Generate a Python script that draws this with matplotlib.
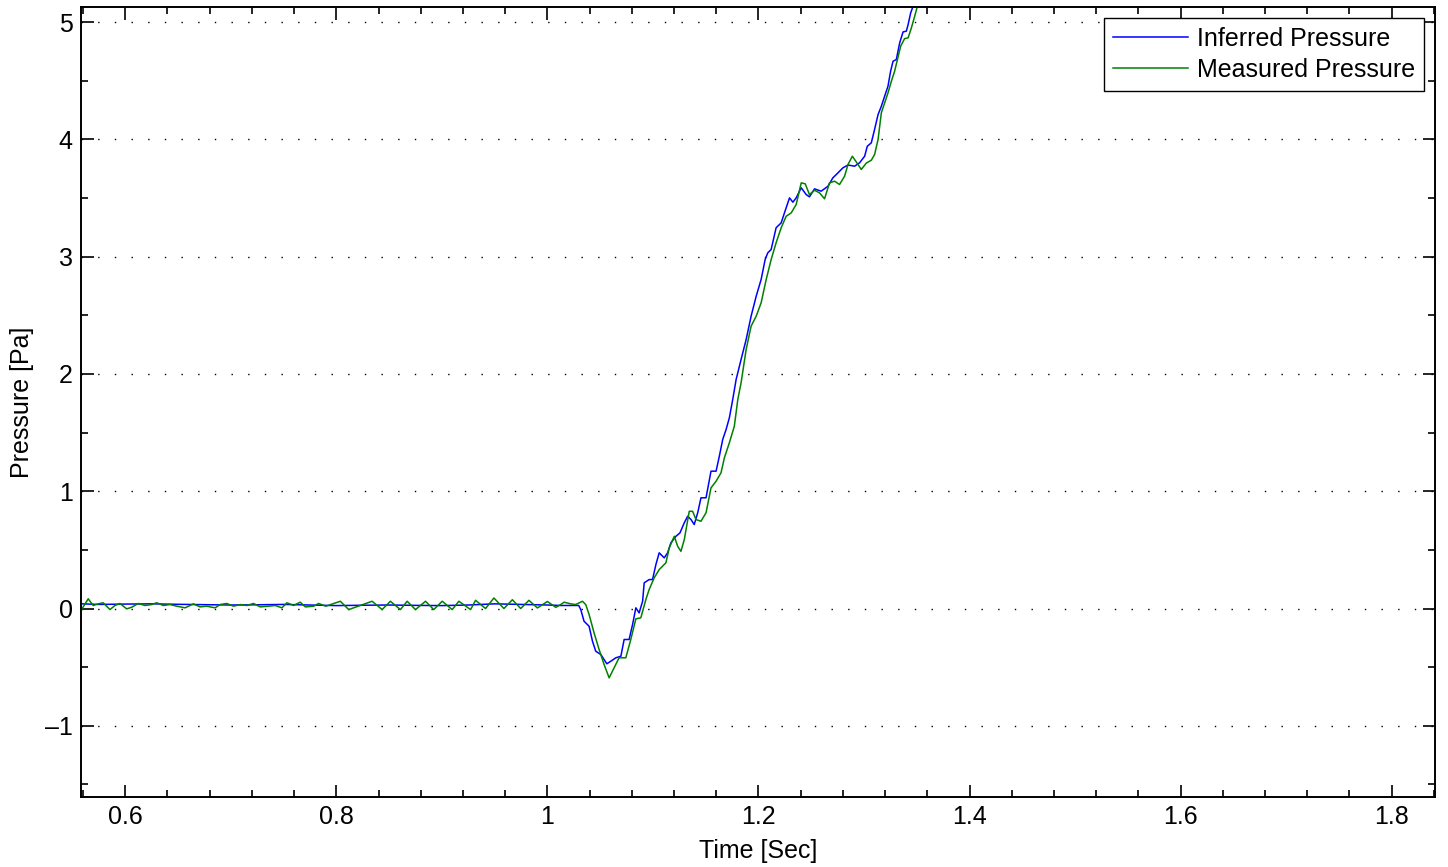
import matplotlib
matplotlib.use("Agg")
import matplotlib.pyplot as plt
from matplotlib.ticker import MultipleLocator

plt.rcParams['font.family'] = ['Liberation Sans', 'DejaVu Sans']

# Inferred pressure trace (time [s], pressure [Pa])
inferred_t = [0.5586, 0.575, 0.600, 0.625, 0.650, 0.675, 0.700, 0.725, 0.750, 0.775,
              0.800, 0.825, 0.850, 0.875, 0.900, 0.925, 0.950, 0.975, 1.000, 1.0126,
              1.0297, 1.0316, 1.0347, 1.0395, 1.0427, 1.0458, 1.0506, 1.0563, 1.0601,
              1.0648, 1.0696, 1.0727, 1.0774, 1.0807, 1.0838, 1.0869, 1.0902, 1.0917,
              1.0964, 1.0996, 1.1028, 1.1059, 1.1107, 1.1139, 1.1170, 1.1218, 1.1256,
              1.1297, 1.1329, 1.1360, 1.1391, 1.1424, 1.1455, 1.1503, 1.1550, 1.1598,
              1.1629, 1.1661, 1.1693, 1.1724, 1.1756, 1.1788, 1.1835, 1.1883, 1.1930,
              1.1978, 1.2025, 1.2063, 1.2088, 1.2120, 1.2167, 1.2215, 1.2246, 1.2294,
              1.2326, 1.2357, 1.2405, 1.2452, 1.2483, 1.2531, 1.2594, 1.2658, 1.2705,
              1.2753, 1.2800, 1.2848, 1.2911, 1.2958, 1.3006, 1.3031, 1.3069, 1.3100,
              1.3133, 1.3164, 1.3195, 1.3227, 1.3252, 1.3275, 1.3306, 1.3338, 1.3370,
              1.3401, 1.3418, 1.3442, 1.3465, 1.3496]
inferred_p = [0.040, 0.035, 0.038, 0.040, 0.036, 0.033, 0.030, 0.032, 0.035, 0.030,
              0.025, 0.028, 0.030, 0.027, 0.025, 0.030, 0.040, 0.035, 0.030, 0.026,
              0.026, -0.009, -0.108, -0.151, -0.279, -0.364, -0.392, -0.471, -0.449,
              -0.420, -0.407, -0.264, -0.264, -0.136, 0.006, -0.037, 0.062, 0.219,
              0.247, 0.247, 0.375, 0.475, 0.432, 0.475, 0.560, 0.616, 0.645,
              0.731, 0.787, 0.759, 0.716, 0.816, 0.944, 0.944, 1.171, 1.171,
              1.298, 1.441, 1.526, 1.626, 1.782, 1.952, 2.123, 2.293, 2.492,
              2.662, 2.805, 2.975, 3.032, 3.061, 3.246, 3.288, 3.373, 3.501,
              3.464, 3.501, 3.587, 3.529, 3.510, 3.578, 3.558, 3.600, 3.672,
              3.714, 3.757, 3.781, 3.771, 3.800, 3.856, 3.941, 3.970, 4.084,
              4.211, 4.282, 4.367, 4.453, 4.581, 4.666, 4.680, 4.823, 4.916,
              4.922, 4.979, 5.078, 5.135, 5.230]

# Measured pressure trace (time [s], pressure [Pa])
measured_t = [0.5586, 0.5649, 0.5696, 0.5744, 0.5791, 0.5855, 0.5902, 0.5950, 0.6013,
              0.6061, 0.6123, 0.6187, 0.6250, 0.6298, 0.6360, 0.6424, 0.6488, 0.6567,
              0.6645, 0.6709, 0.6772, 0.6851, 0.6899, 0.6962, 0.7025, 0.7089, 0.7152,
              0.7215, 0.7279, 0.7357, 0.7421, 0.7484, 0.7532, 0.7595, 0.7658, 0.7706,
              0.7785, 0.7832, 0.7900, 0.8038, 0.8117, 0.8339, 0.8434, 0.8512, 0.8607,
              0.8671, 0.8750, 0.8845, 0.8923, 0.9003, 0.9098, 0.9161, 0.9272, 0.9319,
              0.9414, 0.9493, 0.9588, 0.9668, 0.9747, 0.9825, 0.9905, 1.0000, 1.0079,
              1.0126, 1.0158, 1.0221, 1.0268, 1.0332, 1.0363, 1.0395, 1.0442, 1.0490,
              1.0537, 1.0585, 1.0632, 1.0679, 1.0743, 1.0790, 1.0838, 1.0885, 1.0933,
              1.0964, 1.1012, 1.1059, 1.1123, 1.1154, 1.1202, 1.1234, 1.1265, 1.1297,
              1.1344, 1.1376, 1.1408, 1.1455, 1.1503, 1.1550, 1.1598, 1.1645, 1.1677,
              1.1724, 1.1771, 1.1804, 1.1835, 1.1883, 1.1930, 1.1978, 1.2025, 1.2073,
              1.2120, 1.2167, 1.2215, 1.2262, 1.2310, 1.2357, 1.2405, 1.2443, 1.2483,
              1.2531, 1.2578, 1.2626, 1.2673, 1.2721, 1.2768, 1.2816, 1.2848, 1.2889,
              1.2927, 1.2974, 1.3022, 1.3069, 1.3100, 1.3133, 1.3164, 1.3195, 1.3227,
              1.3259, 1.3290, 1.3316, 1.3347, 1.3385, 1.3418, 1.3449, 1.3480, 1.3506,
              1.3534]
measured_p = [-0.008, 0.083, 0.026, 0.040, 0.049, -0.009, 0.026, 0.043, -0.003,
              0.011, 0.043, 0.026, 0.034, 0.049, 0.026, 0.034, 0.020, 0.006,
              0.040, 0.014, 0.020, 0.006, 0.034, 0.043, 0.020, 0.034, 0.026,
              0.043, 0.014, 0.020, 0.026, 0.006, 0.049, 0.026, 0.054, 0.014,
              0.020, 0.043, 0.020, 0.062, -0.009, 0.062, -0.009, 0.062, -0.009,
              0.062, -0.009, 0.062, -0.009, 0.062, -0.009, 0.062, -0.009, 0.070,
              0.000, 0.090, 0.000, 0.075, 0.000, 0.070, 0.005, 0.060, 0.010,
              0.034, 0.054, 0.040, 0.034, 0.062, 0.034, -0.051, -0.207, -0.350,
              -0.477, -0.591, -0.506, -0.420, -0.420, -0.264, -0.088, -0.079, 0.077,
              0.162, 0.262, 0.332, 0.390, 0.517, 0.616, 0.531, 0.488, 0.588,
              0.829, 0.829, 0.759, 0.744, 0.816, 1.029, 1.085, 1.157, 1.285,
              1.413, 1.554, 1.782, 1.924, 2.208, 2.407, 2.492, 2.606, 2.805,
              2.975, 3.118, 3.246, 3.344, 3.373, 3.444, 3.629, 3.621, 3.529,
              3.566, 3.544, 3.493, 3.629, 3.643, 3.615, 3.686, 3.785, 3.856,
              3.807, 3.743, 3.798, 3.822, 3.870, 3.998, 4.226, 4.311, 4.396,
              4.495, 4.581, 4.680, 4.794, 4.859, 4.865, 4.951, 5.049, 5.135,
              5.230]

series_labels = ["Inferred Pressure", "Measured Pressure"]
x_limits = (0.558, 1.841)
y_limits = (-1.607, 5.128)

fig = plt.figure(figsize=(14.48, 8.67), dpi=100)
ax = fig.add_axes([0.0559, 0.0807, 0.9351, 0.9112])

ax.plot(inferred_t, inferred_p, color=(0, 0, 1), lw=1.1, label=series_labels[0])
ax.plot(measured_t, measured_p, color=(0, 0.5, 0), lw=1.1, label=series_labels[1])

ax.set_xlim(*x_limits)
ax.set_ylim(*y_limits)
ax.xaxis.set_major_locator(MultipleLocator(0.2))
ax.xaxis.set_minor_locator(MultipleLocator(0.04))
ax.yaxis.set_major_locator(MultipleLocator(1))
ax.yaxis.set_minor_locator(MultipleLocator(0.5))
ax.xaxis.set_major_formatter(plt.FuncFormatter(lambda v, p: f"{v:g}"))
ax.yaxis.set_major_formatter(plt.FuncFormatter(lambda v, p: f"{v:g}".replace("-", "\u2013")))

ax.tick_params(which='both', direction='in', top=True, right=True, width=1.2,
               labelsize=18, colors='black')
ax.tick_params(which='major', length=9, pad=6)
ax.tick_params(which='minor', length=5)
for s in ax.spines.values():
    s.set_linewidth(1.4)

ax.yaxis.grid(True, which='major', color='black', linestyle=(0, (1, 11)), lw=1.0)
ax.xaxis.grid(False)

ax.set_xlabel("Time [Sec]", fontsize=18, labelpad=7)
ax.set_ylabel("Pressure [Pa]", fontsize=18, labelpad=8)

leg = ax.legend(loc='upper right', fontsize=18, handlelength=3.0, handletextpad=0.35,
                labelspacing=0.28, borderpad=0.35, borderaxespad=0.45,
                fancybox=False, framealpha=1, edgecolor='black')
leg.get_frame().set_linewidth(1.0)

fig.savefig("out.png", dpi=100)
